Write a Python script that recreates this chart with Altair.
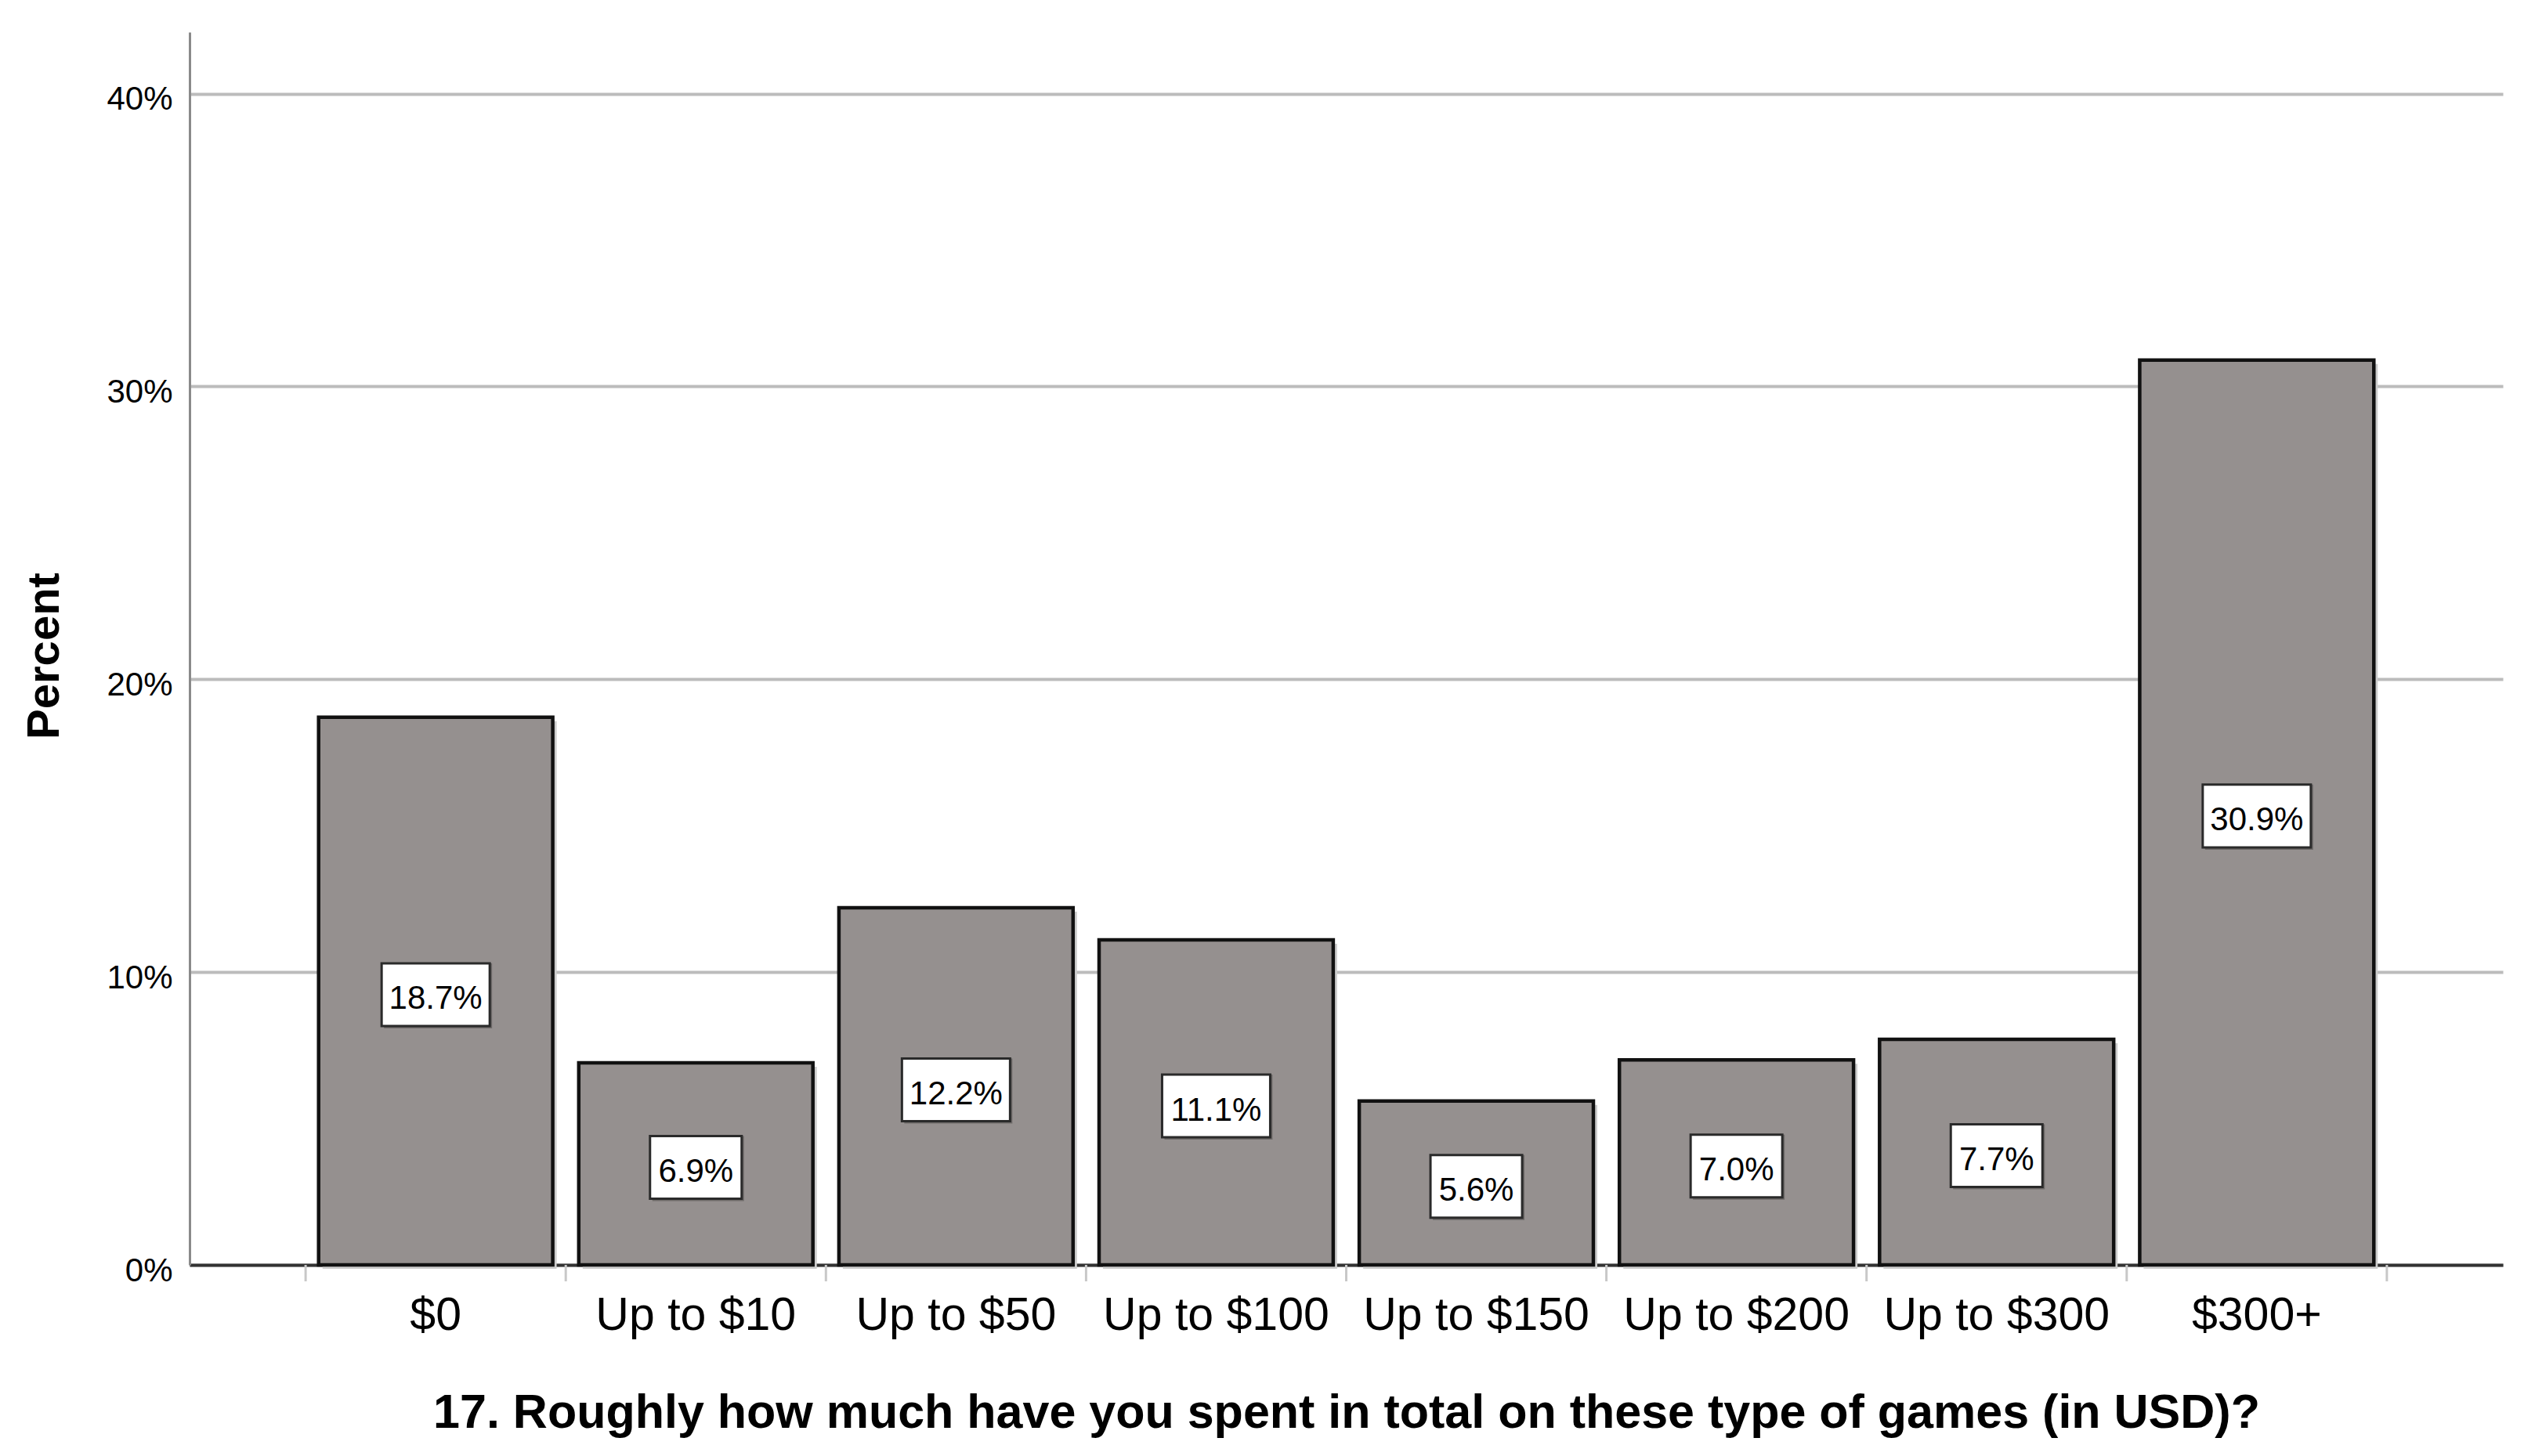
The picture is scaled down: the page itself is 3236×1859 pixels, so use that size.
import altair as alt
import pandas as pd

categories = ["$0", "Up to $10", "Up to $50", "Up to $100", "Up to $150",
              "Up to $200", "Up to $300", "$300+"]
percents = [18.7, 6.9, 12.2, 11.1, 5.6, 7.0, 7.7, 30.9]
bar_labels = ["18.7%", "6.9%", "12.2%", "11.1%", "5.6%", "7.0%", "7.7%", "30.9%"]
y_ticks = [0, 10, 20, 30, 40]

df = pd.DataFrame({"cat": categories, "pct": percents, "lab": bar_labels})

W, H = 2953, 1574
FONT = "Liberation Sans"
BAR_FILL = "#95908f"
LABEL_SHIFT = 9  # labels sit slightly below the bar midpoint

xscale = alt.Scale(domain=categories, paddingInner=0, paddingOuter=0.446)
yscale = alt.Scale(domain=[0, 42.1], nice=False, zero=True)

x_axis = alt.Axis(
    title="17. Roughly how much have you spent in total on these type of games (in USD)?",
    titleFont=FONT, titleFontSize=61, titleFontWeight="bold", titleColor="black",
    titleY=207, titleBaseline="alphabetic",
    labelFont=FONT, labelFontSize=59, labelColor="black", labelPadding=35,
    labelAngle=0, labelLimit=0, labelOverlap=False,
    ticks=False, tickSize=0, grid=False,
    domainColor="#333333", domainWidth=4,
)
y_axis = alt.Axis(
    title="Percent", titleFont=FONT, titleFontSize=58, titleFontWeight="bold",
    titleColor="black", titleAngle=270, titleAlign="center",
    titleBaseline="alphabetic", titleX=-168, titleY=796,
    values=y_ticks, labelExpr="datum.value + '%'",
    labelFont=FONT, labelFontSize=42, labelColor="black", labelPadding=22,
    labelOffset=7, ticks=False, tickSize=0,
    grid=True, gridColor="#bcbcbc", gridWidth=4,
    domainColor="#8a8a8a", domainWidth=3,
)

def X(**kw):
    return alt.X("cat:N", sort=categories, scale=xscale, axis=x_axis, **kw)

def Y(field):
    return alt.Y(field, scale=yscale, axis=y_axis)

base = alt.Chart(df)

shadow = base.mark_bar(width=alt.RelativeBandSize(0.9), color="#cdcdcd",
                       xOffset=5, yOffset=5).encode(x=X(), y=Y("pct:Q"))

bars = base.mark_bar(width=alt.RelativeBandSize(0.9), fill=BAR_FILL,
                     stroke="#111111", strokeWidth=4.5).encode(x=X(), y=Y("pct:Q"))

ticks = base.mark_rule(color="#c8c8c8", strokeWidth=3).encode(
    x=X(bandPosition=0), y=alt.value(H), y2=alt.value(H + 21),
)
end_tick = base.mark_rule(color="#c8c8c8", strokeWidth=3).encode(
    x=X(bandPosition=1), y=alt.value(H), y2=alt.value(H + 21),
).transform_filter(alt.datum.cat == categories[-1])

boxed = base.transform_calculate(
    mid="datum.pct / 2",
    lo="datum.pct / 2 - 0.95",
    hi="datum.pct / 2 + 0.95",
)

def box_layer(filt, width):
    sh = boxed.transform_filter(filt).mark_bar(
        width=width, color="#6e6a69", xOffset=3, yOffset=LABEL_SHIFT + 3).encode(
        x=X(), y=Y("lo:Q"), y2="hi:Q",
    )
    bx = boxed.transform_filter(filt).mark_bar(
        width=width, fill="white", stroke="#2a2a2a", strokeWidth=3,
        yOffset=LABEL_SHIFT).encode(
        x=X(), y=Y("lo:Q"), y2="hi:Q",
    )
    return sh + bx

boxes_long = box_layer("datum.pct >= 10", 138)
boxes_short = box_layer("datum.pct < 10", 117)

texts = boxed.mark_text(font=FONT, fontSize=42, color="black",
                        baseline="middle", align="center",
                        dy=LABEL_SHIFT + 1).encode(
    x=X(), y=Y("mid:Q"), text="lab:N",
)

chart = alt.layer(shadow, bars, ticks, end_tick, boxes_long, boxes_short, texts).properties(
    width=W, height=H,
    autosize=alt.AutoSizeParams(type="none"),
    padding={"left": 234, "top": 33, "right": 30, "bottom": 230},
    background="white",
).configure_view(stroke=None)

chart.save("out.html", embed_options={"renderer": "svg", "actions": False})
